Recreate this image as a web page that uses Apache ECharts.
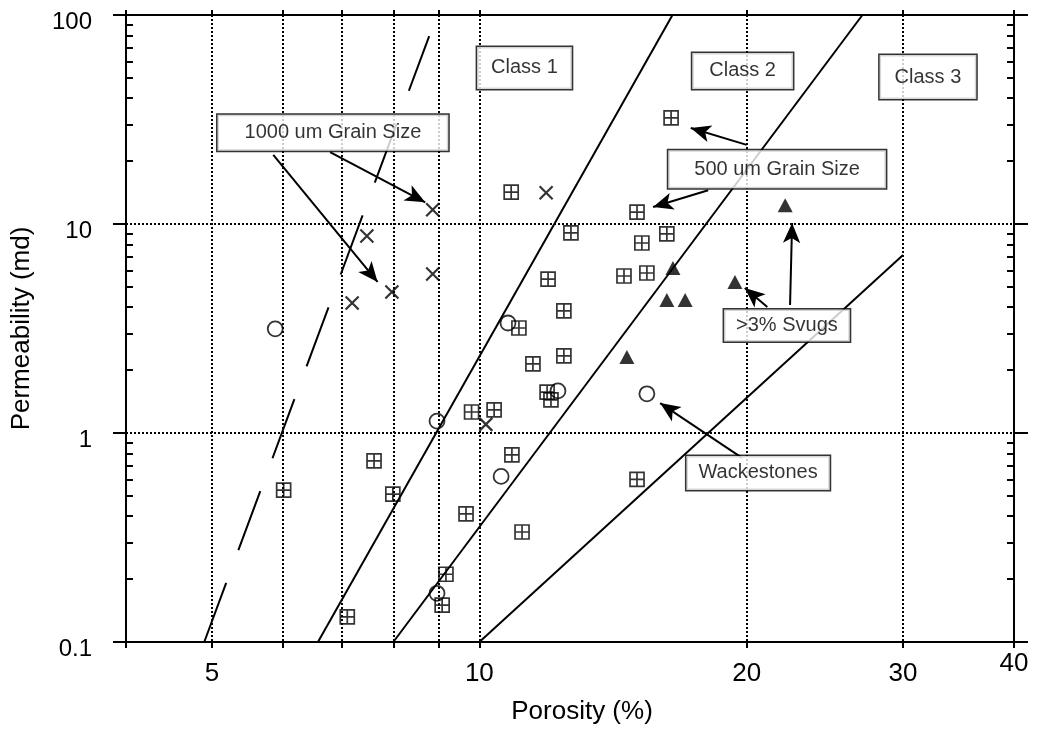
<!DOCTYPE html>
<html><head><meta charset="utf-8">
<script src="https://cdn.jsdelivr.net/npm/echarts@6/dist/echarts.min.js"></script>
<style>html,body{margin:0;padding:0;background:#fff}#c{width:1045px;height:731px}</style>
</head><body><div id="c"></div>
<script>
// ---- data ----
const xTickVals = [4, 5, 6, 7, 8, 9, 10, 20, 30, 40];
const xLabelVals = [5, 10, 20, 30, 40];
const xLabelText = ['5', '10', '20', '30', '40'];
const yMajorVals = [0.1, 1, 10, 100];
const yMajorText = ['0.1', '1', '10', '100'];
const yMinorVals = [0.2,0.3,0.4,0.5,0.6,0.7,0.8,0.9,2,3,4,5,6,7,8,9,20,30,40,50,60,70,80,90];

const squares = [[16.44,32.2],[10.86,14.2],[15.05,11.4],[12.68,9.06],[16.26,8.96],[15.24,8.11],
  [11.95,5.45],[15.44,5.83],[14.55,5.64],[12.45,3.84],[11.08,3.18],[11.49,2.14],[12.45,2.34],
  [11.92,1.57],[12.04,1.44],[10.39,1.29],[9.8,1.26],[10.88,0.785],[7.61,0.735],[6.02,0.533],
  [7.99,0.51],[9.66,0.41],[15.05,0.60],[11.17,0.336],[9.17,0.211],[9.08,0.150],[7.1,0.132]];
const circles = [[5.89,3.15],[10.77,3.36],[12.26,1.59],[8.96,1.14],[10.58,0.62],[15.44,1.54],[8.96,0.171]];
const crosses = [[8.86,11.7],[11.89,14.1],[7.47,8.76],[8.86,5.76],[7.97,4.73],[7.19,4.19],[10.17,1.10]];
const triangles = [[22.1,12.3],[16.52,6.16],[16.26,4.33],[17.05,4.33],[14.66,2.31],[19.4,5.28]];

const classLine1 = [[6.58,0.1],[16.5,100]];
const classLine2 = [[8.0,0.1],[27.0,100]];
const classLine3 = [[10.0,0.1],[30.0,7.1]];
const grainLine = [[4.90,0.1],[8.78,79.3]];

const noteTexts = ['Class 1','Class 2','Class 3','1000 um Grain Size','500 um Grain Size','>3% Svugs','Wackestones'];
const notePos = [[11.24,55.8],[19.79,54.0],[32.0,50.5],[6.84,27.3],[21.64,18.3],[22.2,3.27],[20.6,0.644]];
const notePads = [[11,14],[8,17],[12,15],[8,27],[9,26],[6,12],[7,12]];

const arrows = [
  [[5.86,21.4],[7.68,5.28]],
  [[6.79,22.1],[8.69,12.7]],
  [[20.0,23.9],[17.3,28.8]],
  [[18.1,14.5],[15.69,12.06]],
  [[21.1,4.01],[19.9,4.94]],
  [[22.38,4.1],[22.5,10.1]],
  [[19.76,0.76],[15.98,1.39]]
];

// ---- chart ----
const FONT = '"Liberation Sans", Arial, Helvetica, sans-serif';
const chart = echarts.init(document.getElementById('c'), null, {renderer: 'canvas'});
const black = '#000';
const dotted = {type: [2, 2], color: black, width: 2};
const idx = (arr, v) => arr.findIndex(a => Math.abs(a - v) < 1e-6 * Math.max(1, a));

const mkX = (pos, opts) => Object.assign({
  type: 'log', logBase: 10, min: 4, max: 40, position: pos,
  axisLine: {show: true, onZero: false, lineStyle: {color: black, width: 2}},
  axisTick: {show: true, customValues: xTickVals, length: 6, inside: false, lineStyle: {color: black, width: 2}},
  axisLabel: {show: false}, splitLine: {show: false}, minorTick: {show: false}
}, opts);
const mkY = (pos, opts) => Object.assign({
  type: 'log', logBase: 10, min: 0.1, max: 100, position: pos,
  axisLine: {show: true, onZero: false, lineStyle: {color: black, width: 2}},
  axisTick: {show: true, customValues: yMajorVals, length: 13, inside: false, lineStyle: {color: black, width: 2}},
  axisLabel: {show: false}, splitLine: {show: false}, minorTick: {show: false}
}, opts);

const option = {
  animation: false,
  backgroundColor: '#fff',
  textStyle: {fontFamily: FONT},
  grid: {left: 126, right: 31, top: 15, bottom: 89, containLabel: false, outerBoundsMode: 'none'},
  xAxis: [
    mkX('bottom', {
      axisLabel: {
        show: true, customValues: xLabelVals, margin: 9, color: black, fontSize: 26, fontFamily: FONT,
        formatter: v => { const i = idx(xLabelVals, v); const t = i >= 0 ? xLabelText[i] : ''; return i === 4 ? '{hi|' + t + '}' : '{lo|' + t + '}'; },
        rich: {lo: {fontSize: 26, fontFamily: FONT, color: black, padding: [10, 0, 0, 0]}, hi: {fontSize: 26, fontFamily: FONT, color: black}}
      },
      splitLine: {show: true, lineStyle: dotted},
      name: 'Porosity (%)', nameLocation: 'middle', nameGap: 57,
      nameTextStyle: {fontSize: 26, color: black, fontFamily: FONT, padding: [0, 0, 0, 24]}
    }),
    mkX('top', {axisTick: {show: true, customValues: xTickVals, length: 5, inside: false, lineStyle: {color: black, width: 2}}})
  ],
  yAxis: [
    mkY('left', {
      axisLabel: {
        show: true, customValues: yMajorVals, margin: 34, color: black, fontSize: 24, fontFamily: FONT,
        formatter: v => { const i = idx(yMajorVals, v); return '{d|' + (i >= 0 ? yMajorText[i] : '') + '}'; },
        rich: {d: {fontSize: 24, fontFamily: FONT, color: black, padding: [15, 0, 0, 0]}}
      },
      splitLine: {show: true, lineStyle: dotted},
      name: 'Permeability (md)', nameLocation: 'middle', nameGap: 91,
      nameTextStyle: {fontSize: 26, color: black, fontFamily: FONT}
    }),
    mkY('left', {axisLine: {show: false}, axisTick: {show: true, customValues: yMinorVals, length: 7, inside: true, lineStyle: {color: black, width: 2}}}),
    mkY('right', {axisTick: {show: true, customValues: yMajorVals, length: 14, inside: false, lineStyle: {color: black, width: 2}}}),
    mkY('right', {axisLine: {show: false}, axisTick: {show: true, customValues: yMinorVals, length: 7, inside: true, lineStyle: {color: black, width: 2}}})
  ],
  series: [
    ...[classLine1, classLine2, classLine3].map(d => ({
      type: 'line', data: d, symbol: 'none', z: 2, silent: true,
      lineStyle: {color: black, width: 2}, emphasis: {disabled: true}
    })),
    {
      type: 'line', data: grainLine, symbol: 'none', z: 2, silent: true,
      lineStyle: {color: black, width: 2, type: [63, 35]}, emphasis: {disabled: true}
    },
    {
      type: 'scatter', data: squares, z: 3, silent: true,
      symbol: 'path://M0 0L12 0L12 12L0 12Z M6 0L6 12 M0 6L12 6', symbolSize: 14,
      itemStyle: {color: 'rgba(0,0,0,0)', borderColor: black, borderWidth: 1.7}, emphasis: {disabled: true}
    },
    {
      type: 'scatter', data: circles, z: 3, silent: true, symbol: 'circle', symbolSize: 15,
      itemStyle: {color: 'rgba(0,0,0,0)', borderColor: black, borderWidth: 1.8}, emphasis: {disabled: true}
    },
    {
      type: 'scatter', data: crosses, z: 3, silent: true,
      symbol: 'path://M0 0L10 10M10 0L0 10', symbolSize: 13,
      itemStyle: {color: 'rgba(0,0,0,0)', borderColor: black, borderWidth: 2.2}, emphasis: {disabled: true}
    },
    {
      type: 'scatter', data: triangles, z: 3, silent: true, symbol: 'triangle', symbolSize: [15, 14],
      itemStyle: {color: black}, emphasis: {disabled: true}
    },
    {
      type: 'line', data: [], z: 4, silent: true,
      markLine: {
        silent: true, animation: false, symbol: ['none', 'arrow'], symbolSize: [13, 20],
        label: {show: false}, emphasis: {disabled: true},
        lineStyle: {color: black, width: 2, type: 'solid'},
        itemStyle: {color: black},
        data: arrows.map(a => [{coord: a[0]}, {coord: a[1]}])
      }
    },
    {
      type: 'scatter', z: 6, silent: true, symbol: 'rect', symbolSize: 1,
      itemStyle: {color: 'rgba(0,0,0,0)'}, emphasis: {disabled: true},
      data: noteTexts.map((t, i) => ({
        value: notePos[i], name: t,
        label: {padding: notePads[i]}
      })),
      label: {
        show: true, position: 'inside', formatter: p => p.name,
        fontSize: 20, lineHeight: 20, fontFamily: FONT, color: black,
        backgroundColor: '#fff', borderColor: black, borderWidth: 1.5
      }
    }
  ]
};
chart.setOption(option);
</script></body></html>
